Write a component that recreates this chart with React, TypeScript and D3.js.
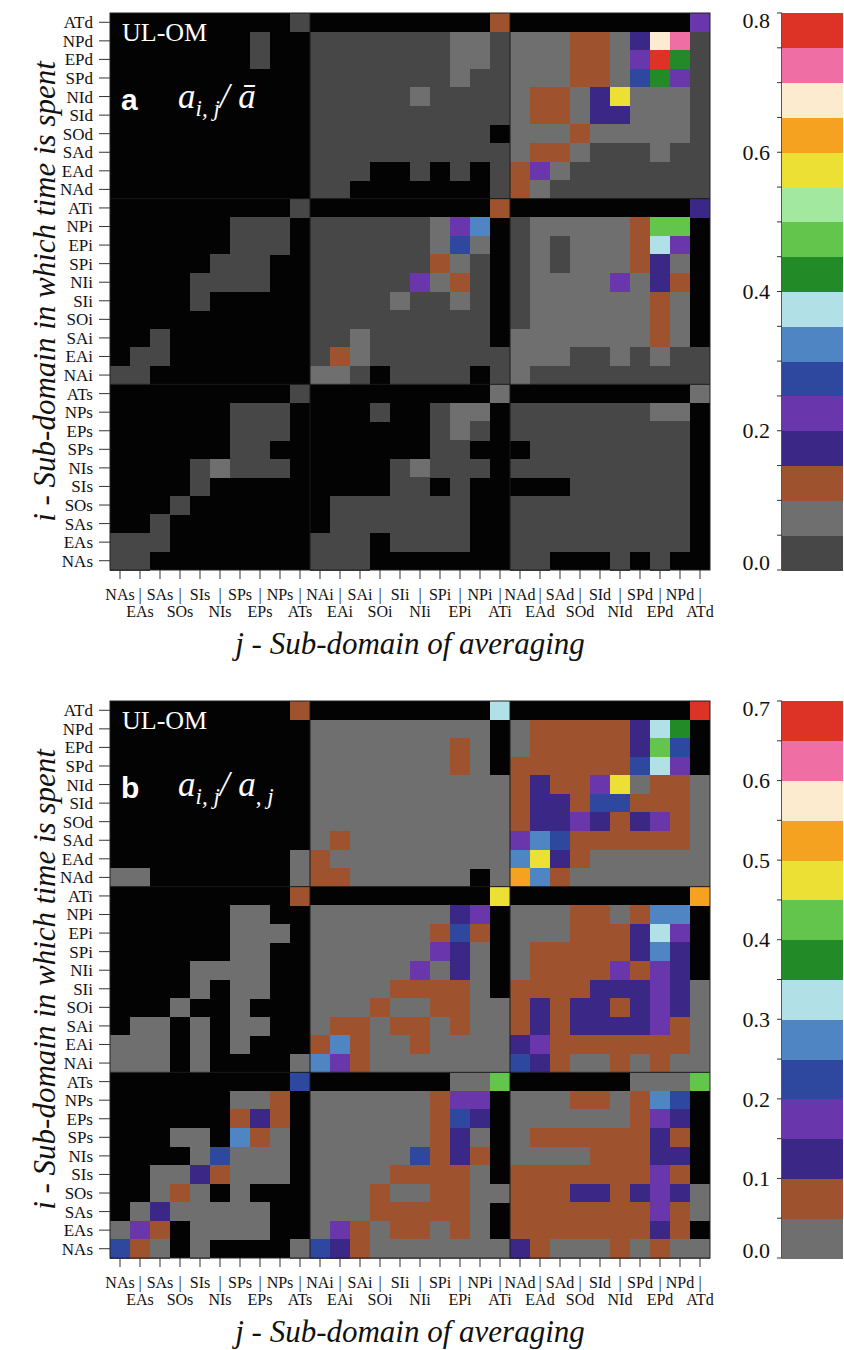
import React from "react";
import * as d3 from "d3";

// sub-domains, top row of the matrix first
const rowNames = [
  "ATd", "NPd", "EPd", "SPd", "NId", "SId", "SOd", "SAd", "EAd", "NAd",
  "ATi", "NPi", "EPi", "SPi", "NIi", "SIi", "SOi", "SAi", "EAi", "NAi",
  "ATs", "NPs", "EPs", "SPs", "NIs", "SIs", "SOs", "SAs", "EAs", "NAs",
];

const colNames = [
  "NAs", "EAs", "SAs", "SOs", "SIs", "NIs", "SPs", "EPs", "NPs", "ATs",
  "NAi", "EAi", "SAi", "SOi", "SIi", "NIi", "SPi", "EPi", "NPi", "ATi",
  "NAd", "EAd", "SAd", "SOd", "SId", "NId", "SPd", "EPd", "NPd", "ATd",
];

// each char is one cell: "." = masked (black), hex digit = colour band (0.05 wide)
const cellsA = [
  "..... ....0 ..... ....2 ..... ....4",
  "..... ..0.. 00000 00110 11122 13de0",
  "..... ..0.. 00000 00110 11122 14f80",
  "..... ..... 00000 00100 11122 15840",
  "..... ..... 00000 10000 12213 b1110",
  "..... ..... 00000 00000 12213 31110",
  "..... ..... 00000 0000. 11121 11110",
  "..... ..... 00000 00000 12210 00100",
  "..... ..... 000.. 0.0.0 24100 00000",
  "..... ..... 00... ....0 21000 00000",
  "..... ....0 ..... ....2 ..... ....3",
  "..... .000. 00000 0146. 01111 1299.",
  "..... .000. 00000 0151. 01011 1274.",
  "..... 000.. 00000 0210. 01011 1231.",
  "....0 000.. 00000 4120. 01111 4132.",
  "....0 ..... 00001 0010. 01111 1121.",
  "..... ..... 00000 0000. 01111 1121.",
  "..0.. ..... 00100 0000. 11111 1121.",
  ".00.. ..... 02100 00000 11100 10100",
  "00... ..... 110.0 000.0 10000 00000",
  "..... ....0 ..... ....1 ..... ....1",
  "..... .000. ...0. .011. 00000 0011.",
  "..... .000. ..... .010. 00000 0000.",
  "..... .00.. ..... .00.. .0000 0000.",
  "....0 1000. ....0 1000. 00000 0000.",
  "....0 ..... ....0 0.0.. ...00 0000.",
  "...0. ..... .0000 000.. 00000 0000.",
  "..0.. ..... .0000 000.. 00000 0000.",
  "000.. ..... 000.0 000.. 00000 0000.",
  "00... ..... 000.. ..... 00... 0.0..",
];

const cellsB = [
  "..... ....1 ..... ....6 ..... ....d",
  "..... ..... 00000 0000. 01111 1267.",
  "..... ..... 00000 0010. 01111 1284.",
  "..... ..... 00000 0010. 11111 1463.",
  "..... ..... 00000 00000 12113 90110",
  "..... ..... 00000 00000 12214 41110",
  "..... ..... 00000 00000 12232 12310",
  "..... ..... 01000 00000 35411 11110",
  "..... ....0 10000 00000 59210 00000",
  "00... ....0 11000 000.0 a5100 00000",
  "..... ....1 ..... ....9 ..... ....a",
  "..... .00.. 00000 0023. 00011 0155.",
  "..... .000. 00000 0141. 00011 1263.",
  "..... .00.. 00000 0320. 01111 1252.",
  "....0 000.. 00000 3020. 01111 3132.",
  "....0 .00.. 00001 1110. 11112 22320",
  "...0. .0... 00010 01100 12122 12320",
  ".00.0 .00.. 01101 10100 12122 22310",
  "000.0 .0... 15100 10000 23111 11110",
  "000.0 ....0 53100 00000 42100 10100",
  "..... ....4 ..... ..008 ..... .0008",
  "..... .001. 00000 0133. 00011 0154.",
  "..... .121. 00000 0142. 00000 0132.",
  "...00 .510. 00000 0120. 01111 1121.",
  "....0 4000. 00000 4121. 00001 1122.",
  "..002 1000. 00001 1110. 11111 1131.",
  "..010 .0... 00010 01100 11122 12320",
  ".0200 000.. 00011 1110. 11111 11310",
  "031.0 000.. 03101 1010. 11111 1121.",
  "410.0 ....0 42100 00000 21000 10100",
];

const paletteA = [
  "#474747", "#6f6f6f", "#9e532e", "#3b2785", "#6a36ab", "#2e48a0", "#4f85c2", "#b1e0e6",
  "#228b27", "#63c54c", "#a2e89f", "#ebe033", "#f4a21f", "#fdebd0", "#ef6fa5", "#dd3326",
];
const paletteB = [
  "#6f6f6f", "#9e532e", "#3b2785", "#6a36ab", "#2e48a0", "#4f85c2", "#b1e0e6",
  "#228b27", "#63c54c", "#ebe033", "#f4a21f", "#fdebd0", "#ef6fa5", "#dd3326",
];

const BAND = 0.05;
const MASK = "#030303";
const LEFT = 110, RIGHT = 710, GRID_H = 557;
const CB_LEFT = 782, CB_RIGHT = 843;
const serif = "'Liberation Serif', 'Times New Roman', Times, serif";
const sans = "'Liberation Sans', Arial, Helvetica, sans-serif";

function decode(rows) {
  return rows.map((r) =>
    r.replace(/ /g, "").split("").map((ch) => (ch === "." ? null : (parseInt(ch, 16) + 0.5) * BAND))
  );
}

function Panel({ top, cells, palette, vmax, labelStep, letter, formula }) {
  const values = decode(cells);
  const bottom = top + GRID_H;
  const x = d3.scaleBand().domain(colNames).range([LEFT, RIGHT]);
  const y = d3.scaleBand().domain(rowNames).range([top, bottom]);
  const color = d3.scaleQuantize().domain([0, vmax]).range(palette);
  const cb = d3.scaleLinear().domain([0, vmax]).range([bottom, top]);
  const minor = d3.range(0, vmax + 1e-6, BAND);
  const major = d3.range(0, vmax + 1e-6, labelStep);
  const fmt = d3.format(".1f");

  return (
    <g>
      <rect x={LEFT} y={top} width={RIGHT - LEFT} height={GRID_H} fill={MASK} />
      <g shapeRendering="crispEdges">
        {values.map((row, i) =>
          row.map((v, j) =>
            v === null ? null : (
              <rect
                key={i + "-" + j}
                x={x(colNames[j])}
                y={y(rowNames[i])}
                width={x.bandwidth()}
                height={y.bandwidth() + 0.5}
                fill={color(v)}
              />
            )
          )
        )}
      </g>
      {/* block separators */}
      {[10, 20].map((k) => (
        <g key={k} stroke="#1a1a1a" strokeWidth={1}>
          <line x1={x(colNames[k])} x2={x(colNames[k])} y1={top} y2={bottom} />
          <line x1={LEFT} x2={RIGHT} y1={y(rowNames[k])} y2={y(rowNames[k])} />
        </g>
      ))}
      <rect x={LEFT} y={top} width={RIGHT - LEFT} height={GRID_H} fill="none" stroke="#222" strokeWidth={1} />

      {/* y axis */}
      {rowNames.map((r) => {
        const cy = y(r) + y.bandwidth() / 2;
        return (
          <g key={r}>
            <line x1={LEFT - 11} x2={LEFT} y1={cy} y2={cy} stroke="#333" strokeWidth={1} />
            <text x={LEFT - 17} y={cy} dy="0.35em" textAnchor="end" fontFamily={serif} fontSize={17} fill="#111">
              {r}
            </text>
          </g>
        );
      })}

      {/* x axis: odd columns drop to the second line with a bar above */}
      {colNames.map((c, j) => {
        const cx = x(c) + x.bandwidth() / 2;
        return (
          <g key={c} fontFamily={serif} fontSize={16} fill="#111" textAnchor="middle">
            <line x1={cx} x2={cx} y1={bottom} y2={bottom + 9} stroke="#333" strokeWidth={1} />
            {j % 2 === 0 ? (
              <text x={cx} y={bottom + 30}>{c}</text>
            ) : (
              <>
                <text x={cx} y={bottom + 30}>|</text>
                <text x={cx} y={bottom + 47}>{c}</text>
              </>
            )}
          </g>
        );
      })}

      <text x={(LEFT + RIGHT) / 2} y={bottom + 84} textAnchor="middle" fontFamily={serif} fontStyle="italic" fontSize={31} fill="#111">
        j - Sub-domain of averaging
      </text>
      <text
        transform={`translate(55,${(top + bottom) / 2}) rotate(-90)`}
        textAnchor="middle"
        fontFamily={serif}
        fontStyle="italic"
        fontSize={31}
        fill="#111"
      >
        i - Sub-domain in which time is spent
      </text>

      {/* in-plot annotations */}
      <text x={122} y={top + 28} fontFamily={serif} fontSize={26} fill="#fff">UL-OM</text>
      <text x={121} y={top + 97} fontFamily={sans} fontWeight="bold" fontSize={30} fill="#fff">{letter}</text>
      <text x={178} y={top + 95} fontFamily={serif} fontStyle="italic" fontSize={35} fill="#fff">
        a
        <tspan fontSize={23} dy={8}>i, j</tspan>
        <tspan dy={-8}>{formula === "bar" ? "/ \u0101" : "/ a"}</tspan>
        {formula === "bar" ? null : <tspan fontSize={23} dy={8}>, j</tspan>}
      </text>

      {/* colour bar */}
      <g shapeRendering="crispEdges">
        {palette.map((c) => {
          const [lo, hi] = color.invertExtent(c);
          return <rect key={c} x={CB_LEFT} y={cb(hi)} width={CB_RIGHT - CB_LEFT} height={cb(lo) - cb(hi) + 0.5} fill={c} />;
        })}
      </g>
      <line x1={CB_LEFT - 0.5} x2={CB_LEFT - 0.5} y1={top} y2={bottom} stroke="#555" strokeWidth={1} />
      {minor.map((t) => (
        <line key={t} x1={CB_LEFT - 5} x2={CB_LEFT} y1={cb(t)} y2={cb(t)} stroke="#333" strokeWidth={1} />
      ))}
      {major.map((t) => {
        const ty = Math.min(Math.max(cb(t), top + 7), bottom - 8);
        return (
          <text key={t} x={CB_LEFT - 12} y={ty} dy="0.35em" textAnchor="end" fontFamily={serif} fontSize={22} fill="#111">
            {fmt(t)}
          </text>
        );
      })}
    </g>
  );
}

export default function App() {
  return (
    <div style={{ position: "absolute", left: 0, top: 0 }}>
      <svg width={844} height={1350} style={{ display: "block", background: "#fff" }}>
        <Panel top={13} cells={cellsA} palette={paletteA} vmax={0.8} labelStep={0.2} letter="a" formula="bar" />
        <Panel top={701} cells={cellsB} palette={paletteB} vmax={0.7} labelStep={0.1} letter="b" formula="col" />
      </svg>
    </div>
  );
}
